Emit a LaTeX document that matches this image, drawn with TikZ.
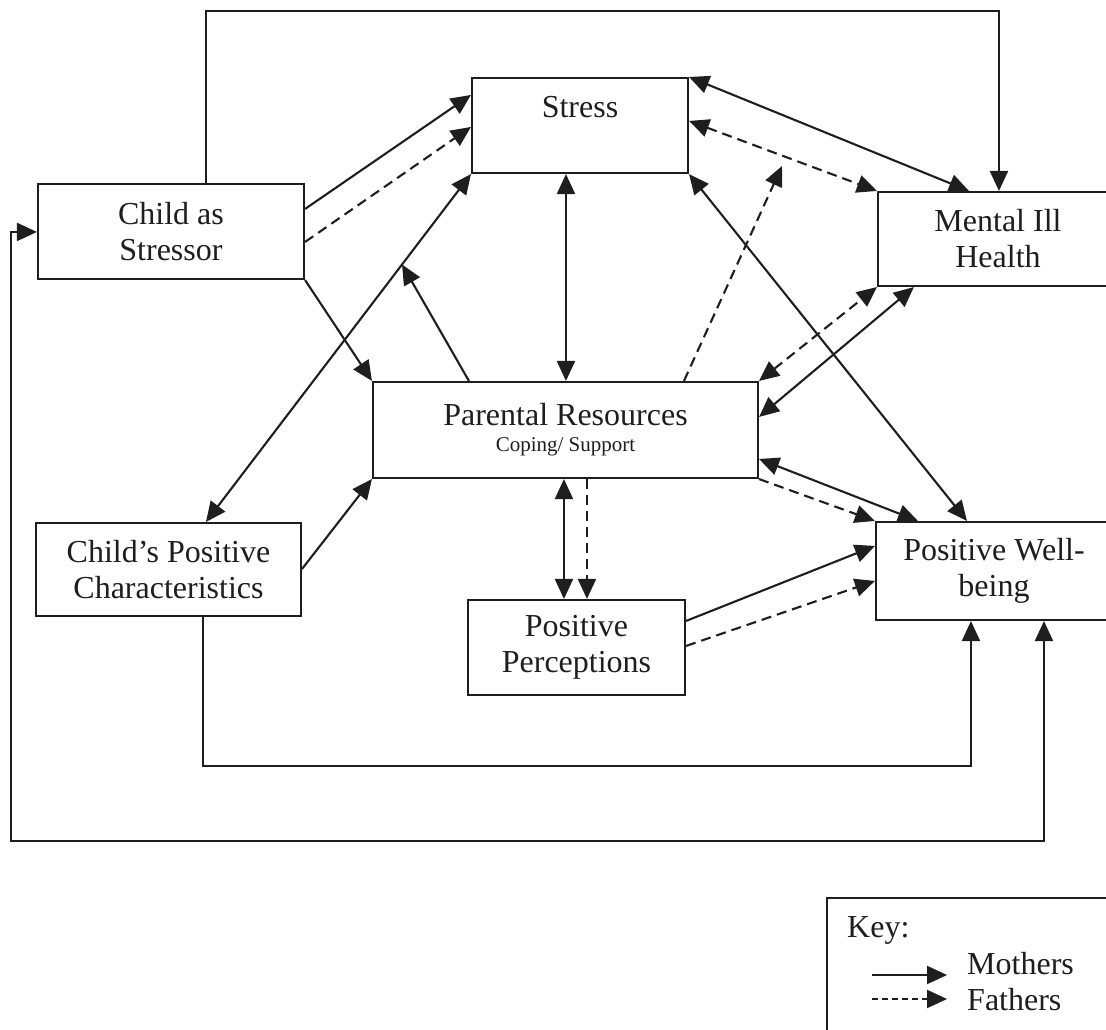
\documentclass[tikz,border=0pt]{standalone}
\usepackage{fontspec}
\setmainfont{Liberation Serif}
\usetikzlibrary{arrows.meta,calc}
\definecolor{ink}{HTML}{1E1E1E}
\begin{document}
\begin{tikzpicture}[x=1pt,y=-1pt,
  box/.style={draw=ink, line width=2.1pt, rectangle, align=center, inner sep=0pt,
              font=\fontsize{32}{36}\selectfont, text=ink},
  lbl/.style={inner sep=0pt, font=\fontsize{32}{36}\selectfont, text=ink},
  link/.style={draw=ink, line width=2.1pt},
  fwd/.style={link, -{Triangle[length=20pt,width=18pt]}},
  twoway/.style={link, {Triangle[length=20pt,width=18pt]}-{Triangle[length=20pt,width=18pt]}},
  dashline/.style={dash pattern=on 10pt off 6pt},
]
\useasboundingbox (0,0) rectangle (1106,1030);
\clip (0,0) rectangle (1106,1030);
\fill[white] (0,0) rectangle (1106,1030);

% boxes
\node[box, minimum width=216pt, minimum height=95pt, text depth=37pt] (stress) at (580,125.5) {Stress};
\node[box, minimum width=266pt, minimum height=95pt] (cas) at (171,231.5) {Child as\\Stressor};
\node[box, minimum width=240pt, minimum height=94pt] (mih) at (998,239) {Mental Ill\\Health};
\node[box, minimum width=385pt, minimum height=96pt] (par) at (565.5,430)
  {Parental Resources\\[-10pt]{\fontsize{21}{24}\selectfont Coping/ Support}};
\node[box, minimum width=265pt, minimum height=93pt] (cpc) at (168.5,569.5) {Child’s Positive\\Characteristics};
\node[box, minimum width=217pt, minimum height=95pt] (pp) at (576.5,647.5) {Positive\\Perceptions};
\node[box, minimum width=236pt, minimum height=98pt] (pwb) at (994,571) {Positive Well-\\being};

% helper points
\coordinate (cpcT) at ($(cpc.north west)+(171,0)$);
\coordinate (mod1) at ($(cpcT)!0.74!(stress.south west)$);
\coordinate (mod2) at (782,166);

% child as stressor
\draw[fwd] ($(cas.north east)+(0,26)$) -- ($(stress.north west)+(0,18)$);
\draw[fwd,dashline] ($(cas.north east)+(0,59)$) -- ($(stress.north west)+(0,50)$);
\draw[fwd] (cas.south east) -- (par.north west);
\draw[fwd] ($(cas.north west)+(169,0)$) -- ++(0,-172) -| ($(mih.north west)+(122,0)$);
\draw[twoway] ($(cas.north west)+(0,49)$) -- ++(-26,0) |- ($(pwb.south west)+(169,220)$) -- ($(pwb.south west)+(169,0)$);

% child's positive characteristics
\draw[twoway] (cpcT) -- (stress.south west);
\draw[fwd] ($(cpc.north east)+(0,47)$) -- (par.south west);
\draw[fwd] ($(cpc.south west)+(168,0)$) -- ++(0,149) -| ($(pwb.south west)+(96,0)$);

% stress
\draw[twoway] ($(stress.south west)+(95,0)$) -- ($(par.north west)+(194,0)$);
\draw[twoway] (stress.north east) -- ($(mih.north west)+(92,0)$);
\draw[twoway,dashline] ($(stress.north east)+(0,44)$) -- (mih.north west);
\draw[twoway] (stress.south east) -- ($(pwb.north west)+(92,0)$);

% parental resources
\draw[fwd] ($(par.north west)+(97,0)$) -- (mod1);
\draw[fwd,dashline] ($(par.north west)+(312,0)$) -- (mod2);
\draw[twoway,dashline] (par.north east) -- (mih.south west);
\draw[twoway] ($(par.north east)+(0,36)$) -- ($(mih.south west)+(37,0)$);
\draw[twoway] ($(par.north east)+(0,78)$) -- ($(pwb.north west)+(43,0)$);
\draw[fwd,dashline] (par.south east) -- (pwb.north west);
\draw[twoway] ($(par.south west)+(192,0)$) -- ($(pp.north west)+(97,0)$);
\draw[fwd,dashline] ($(par.south west)+(215,0)$) -- ($(pp.north west)+(120,0)$);

% positive perceptions
\draw[fwd] ($(pp.north east)+(0,22)$) -- ($(pwb.north west)+(0,25)$);
\draw[fwd,dashline] ($(pp.north east)+(0,47)$) -- ($(pwb.north west)+(0,60)$);

% key
\node[box, minimum width=300pt, minimum height=170pt, anchor=north west] (key) at (826,897) {};
\node[lbl, anchor=base west] (keyt) at (847,937) {Key:};
\node[lbl, anchor=base west] (mlab) at (967,974) {Mothers};
\node[lbl, anchor=base west] (flab) at (967,1010) {Fathers};
\coordinate (m0) at (872,975);
\coordinate (m1) at (947,975);
\coordinate (f0) at (872,999);
\coordinate (f1) at (947,999);
\draw[fwd] (m0) -- (m1);
\draw[fwd, dash pattern=on 6pt off 4pt] (f0) -- (f1);
\end{tikzpicture}
\end{document}
